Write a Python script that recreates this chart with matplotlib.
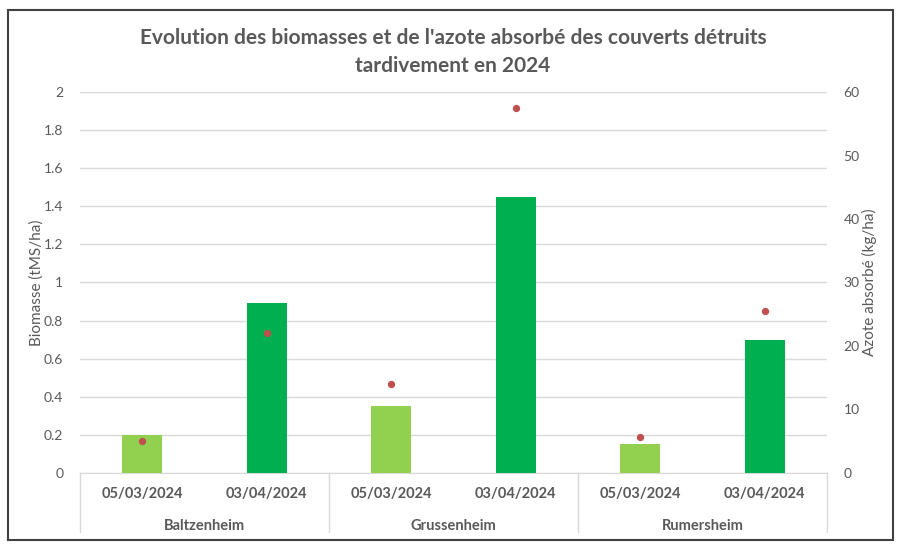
import matplotlib.pyplot as plt
from matplotlib.patches import Rectangle

sites = ["Baltzenheim", "Grussenheim", "Rumersheim"]
dates = ["05/03/2024", "03/04/2024"]
biomasse = [0.2, 0.89, 0.35, 1.45, 0.15, 0.70]
azote = [5.0, 22.0, 14.0, 57.5, 5.7, 25.5]
bar_colors = ["#92D050", "#00B050"] * 3

plt.rcParams['font.family'] = ['Lato', 'DejaVu Sans']
grey = "#595959"

fig = plt.figure(figsize=(9.06, 5.48), dpi=100)
ax = fig.add_axes([0.0883, 0.1369, 0.8245, 0.6952])
x = list(range(len(biomasse)))

ax.bar(x, biomasse, width=0.32, color=bar_colors, zorder=3)
ax.set_xlim(-0.5, 5.5)
ax.set_ylim(0, 2)
ax.set_yticks([i / 10 for i in range(0, 21, 2)])
ax.set_yticklabels(["0", "0.2", "0.4", "0.6", "0.8", "1", "1.2", "1.4", "1.6", "1.8", "2"])
ax.grid(axis="y", color="#D9D9D9", linewidth=1, zorder=0)
ax.set_xticks([])
for s in ["top", "right", "left"]:
    ax.spines[s].set_visible(False)
ax.spines["bottom"].set_color("#D9D9D9")
ax.tick_params(axis="y", length=0, colors=grey, labelsize=10, pad=12)
ax.set_ylabel("Biomasse (tMS/ha)", color=grey, fontsize=11, labelpad=0)

ax2 = ax.twinx()
ax2.scatter(x, azote, color="#C0504D", s=18, zorder=4)
ax2.set_ylim(0, 60)
ax2.set_yticks(range(0, 61, 10))
for s in ax2.spines.values():
    s.set_visible(False)
ax2.tick_params(axis="y", length=0, colors=grey, labelsize=10, pad=12)
ax2.set_ylabel("Azote absorbé (kg/ha)", color=grey, fontsize=11, labelpad=1.5)

# category labels
trans = ax.get_xaxis_transform()
for i in x:
    ax.text(i, -0.055, dates[i % 2], transform=trans, ha="center", va="center",
            fontsize=10.5, fontweight="bold", color=grey)
for j, site in enumerate(sites):
    ax.text(2 * j + 0.5, -0.138, site, transform=trans, ha="center", va="center",
            fontsize=10.5, fontweight="bold", color=grey)
for b in [-0.5, 1.5, 3.5, 5.5]:
    ax.plot([b, b], [0, -0.155], transform=trans, color="#D9D9D9",
            linewidth=1, clip_on=False)

fig.suptitle("Evolution des biomasses et de l'azote absorbé des couverts détruits\ntardivement en 2024",
             y=0.948, fontsize=15, fontweight="bold", color=grey, linespacing=1.5)

fig.patches.append(Rectangle((0.009, 0.015), 0.977, 0.967, transform=fig.transFigure,
                             fill=False, edgecolor="#404040", linewidth=1.5))

plt.savefig("out.png", dpi=100)
